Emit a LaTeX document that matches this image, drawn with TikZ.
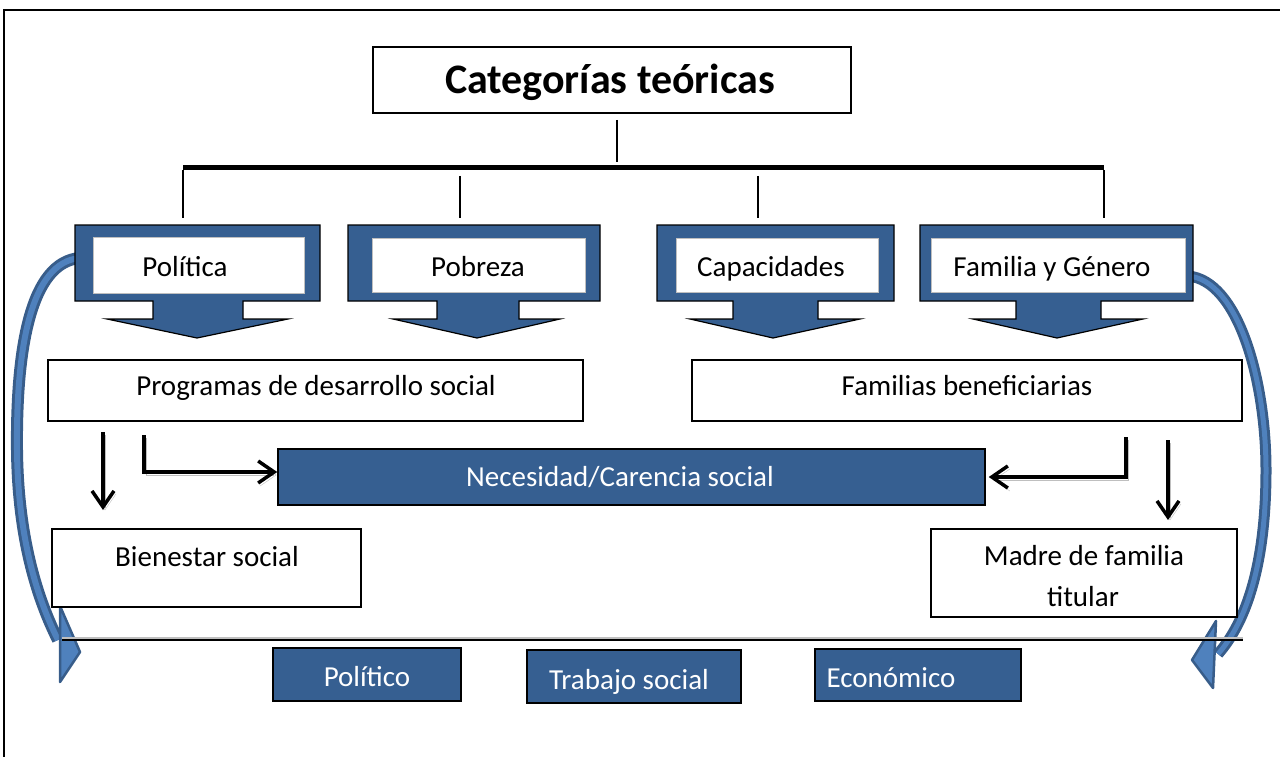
\documentclass[tikz,border=0pt]{standalone}
\usepackage{fontspec}
\setmainfont{Carlito}
\usetikzlibrary{arrows.meta}
\definecolor{dblue}{RGB}{54,95,145}
\definecolor{bandb}{RGB}{56,93,138}
\definecolor{bandf}{RGB}{79,129,189}
\newcommand\mycallout[7]{\draw[calloutshape] (#1,225) -- (#2,225) -- (#2,301) -- (#4,301) -- (#4,319) -- (#6,319) -- (#7,338) -- (#5,319) -- (#3,319) -- (#3,301) -- (#1,301) -- cycle;}
\begin{document}
\begin{tikzpicture}[x=1pt,y=-1pt,
  txt/.style={font=\fontsize{29}{35}\selectfont, inner sep=0pt, text height=19pt, text depth=3pt},
  wbox/.style={draw=black, line width=1.8pt, fill=white, inner sep=0pt},
  bbox/.style={draw=black, line width=1.5pt, fill=dblue, inner sep=0pt},
  inner/.style={draw=black!25, line width=1pt, fill=white, inner sep=0pt},
  calloutshape/.style={draw=black, line width=1.2pt, fill=dblue},
  conn/.style={line width=1.5pt},
  blarrow/.style={line width=3.5pt, -{Straight Barb[length=16pt,width=22pt]},
     preaction={draw=black!25, transform canvas={shift={(2,3)}}}},
]
\useasboundingbox (0,0) rectangle (1280,757);
% frame
\draw[line width=2.5pt] (3,10) -- (1280,10);
\draw[line width=1.5pt] (4,10) -- (4,757);

% title
\node[wbox, minimum width=478pt, minimum height=66pt] (title) at (612,80) {};
\node[font=\fontsize{42}{50}\selectfont\bfseries, inner sep=0pt, text height=28pt, text depth=8pt] (titletxt) at (610,84) {Categorías teóricas};

% tree connectors
\coordinate (t1) at (617,120);
\coordinate (t2) at (617,162);
\draw[conn] (t1) -- (t2);
\coordinate (barL) at (183,168);
\coordinate (barR) at (1104,168);
\draw[line width=5pt] (barL) -- (barR);
\coordinate (d1a) at (183,170); \coordinate (d1b) at (183,218);
\coordinate (d2a) at (460,176); \coordinate (d2b) at (460,218);
\coordinate (d3a) at (758,176); \coordinate (d3b) at (758,218);
\coordinate (d4a) at (1104,170); \coordinate (d4b) at (1104,218);
\draw[conn] (d1a) -- (d1b);
\draw[conn] (d2a) -- (d2b);
\draw[conn] (d3a) -- (d3b);
\draw[conn] (d4a) -- (d4b);

% curved blue arrows
\coordinate (ls) at (80,258);
\coordinate (le) at (58,640);
\draw[bandb, line width=12pt] (ls) .. controls (30,262) and (16,350) .. (17,450) .. controls (18,540) and (38,600) .. (le);
\draw[bandf, line width=6pt] (ls) .. controls (30,262) and (16,350) .. (17,450) .. controls (18,540) and (38,600) .. (le);
\draw[bandb, line width=2.5pt, fill=bandf, line join=round] (60,606) -- (80,652) -- (60,682) -- cycle;

\coordinate (rs) at (1188,276);
\coordinate (re) at (1218,654);
\draw[bandb, line width=11pt] (rs) .. controls (1238,280) and (1266,380) .. (1266,470) .. controls (1266,560) and (1248,620) .. (re);
\draw[bandf, line width=5pt] (rs) .. controls (1238,280) and (1266,380) .. (1266,470) .. controls (1266,560) and (1248,620) .. (re);
\draw[bandb, line width=2.5pt, fill=bandf, line join=round] (1216,621) -- (1192,660) -- (1213,688) -- cycle;

% callouts
\mycallout{75}{320}{153}{243}{107}{288}{197}
\mycallout{348}{600}{437}{519}{393}{560}{477}
\mycallout{657}{894}{733}{818}{690}{860}{773}
\mycallout{920}{1193}{1016}{1101}{973}{1143}{1057}
\node[inner, minimum width=211pt, minimum height=56pt] (pol) at (198.5,265) {};
\node[inner, minimum width=213pt, minimum height=54pt] (pob) at (478.5,265) {};
\node[inner, minimum width=202pt, minimum height=54pt] (cap) at (777,265) {};
\node[inner, minimum width=254pt, minimum height=54pt] (fam) at (1058,265) {};
\node[txt] (poltxt) at (185,268) {Política};
\node[txt] (pobtxt) at (478,268) {Pobreza};
\node[txt] (captxt) at (771,268) {Capacidades};
\node[txt] (famtxt) at (1052,268) {Familia y Género};

% second row
\node[wbox, minimum width=535pt, minimum height=61pt] (prog) at (315.5,390.5) {};
\node[txt] (progtxt) at (316,387) {Programas de desarrollo social};
\node[wbox, minimum width=550pt, minimum height=61pt] (fben) at (967,390.5) {};
\node[txt] (fbentxt) at (967,387) {Familias beneficiarias};

% necesidad
\node[bbox, minimum width=707pt, minimum height=56pt] (nec) at (631.5,477) {};
\node[txt, text=white] (nectxt) at (620,478) {Necesidad/Carencia social};

% black arrows
\coordinate (a1s) at (103,432); \coordinate (a1e) at (103,510);
\draw[blarrow] (a1s) -- (a1e);
\coordinate (a2s) at (144,435); \coordinate (a2m) at (144,472);
\draw[blarrow] (a2s) -- (a2m) -- (nec.west |- a2m);
\coordinate (a3s) at (1126,437); \coordinate (a3m) at (1126,477);
\draw[blarrow] (a3s) -- (a3m) -- ([xshift=3pt]nec.east |- a3m);
\coordinate (a4s) at (1168,440); \coordinate (a4e) at (1168,520);
\draw[blarrow] (a4s) -- (a4e);

% third row
\node[wbox, minimum width=309pt, minimum height=78pt] (bien) at (206.5,568) {};
\node[txt] (bientxt) at (207,558) {Bienestar social};
\node[wbox, minimum width=306pt, minimum height=88pt] (madre) at (1084,573) {};
\node[txt] (madretxt1) at (1084,557) {Madre de familia};
\node[txt] (madretxt2) at (1083,598) {titular};

% line
\coordinate (hl) at (62,640); \coordinate (hr) at (1243,640);
\draw[line width=3pt, black!25] ([yshift=1.5pt]hl) -- ([yshift=1.5pt]hr);
\draw[line width=1.8pt] (hl) -- (hr);

% bottom boxes
\node[bbox, minimum width=188pt, minimum height=53pt] (bpol) at (367,674.5) {};
\node[txt, text=white] (bpoltxt) at (367,678) {Político};
\node[bbox, minimum width=214pt, minimum height=53pt] (btra) at (634,676.5) {};
\node[txt, text=white] (btratxt) at (629,681) {Trabajo social};
\node[bbox, minimum width=206pt, minimum height=52pt] (beco) at (918,675) {};
\node[txt, text=white] (becotxt) at (891,679) {Económico};
\end{tikzpicture}
\end{document}
